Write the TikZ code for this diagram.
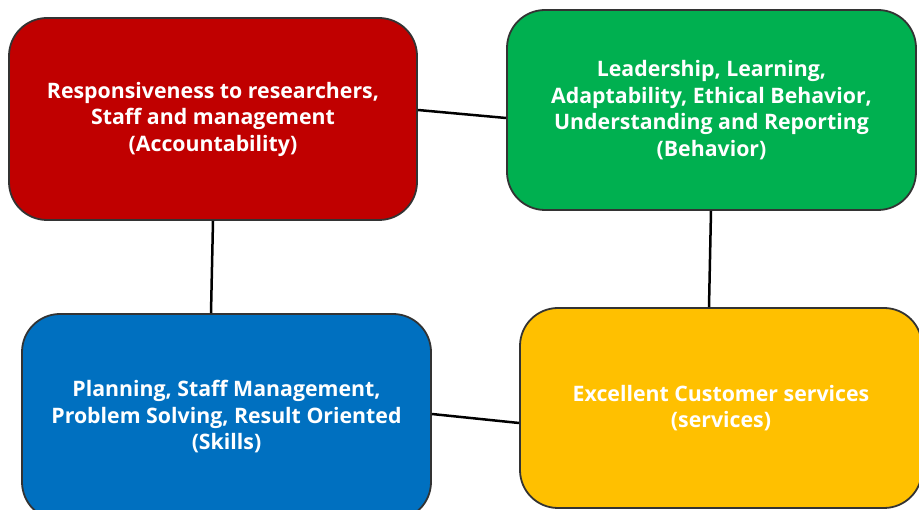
\documentclass[tikz,border=0pt]{standalone}
\usepackage{fontspec}
\setmainfont{Open Sans}
\usetikzlibrary{calc}
\definecolor{cred}{HTML}{C00000}
\definecolor{cgreen}{HTML}{00B050}
\definecolor{cblue}{HTML}{0070C0}
\definecolor{cyellow}{HTML}{FFC000}
\definecolor{cborder}{HTML}{333333}
\tikzset{
  box/.style={draw=cborder, line width=1.8pt, rounded corners=38pt, align=center,
    text=white, font=\fontsize{21.3}{26.5}\selectfont\bfseries, inner sep=0pt},
  link/.style={draw=black, line width=2.5pt}
}
\begin{document}
\begin{tikzpicture}[x=1pt,y=-1pt]
\useasboundingbox (0,0) rectangle (919,510);
\clip (0,0) rectangle (919,510);
\node[box, fill=cred, minimum width=408pt, minimum height=202pt] (red) at (213,119)
  {Responsiveness to researchers,\\Staff and management\\(Accountability)};
\node[box, fill=cgreen, minimum width=409pt, minimum height=200pt] (green) at (711.5,110)
  {Leadership, Learning,\\Adaptability, Ethical Behavior,\\Understanding and Reporting\\(Behavior)};
\node[box, fill=cblue, minimum width=409pt, minimum height=206pt] (blue) at (226.5,417)
  {Planning, Staff Management,\\Problem Solving, Result Oriented\\(Skills)};
\node[box, fill=cyellow, minimum width=402pt, minimum height=200pt] (yellow) at (721,408)
  {Excellent Customer services\\(services)};
\draw[link] ($(red.east)+(0,-9)$) -- ($(green.west)+(0,8)$);
\draw[link] (red.south) -- ($(blue.north)+(-15.5,0)$);
\draw[link] ($(green.south)+(-0.5,0)$) -- ($(yellow.north)+(-12,0)$);
\draw[link] ($(blue.east)+(0,-3)$) -- ($(yellow.west)+(0,15)$);
\end{tikzpicture}
\end{document}
